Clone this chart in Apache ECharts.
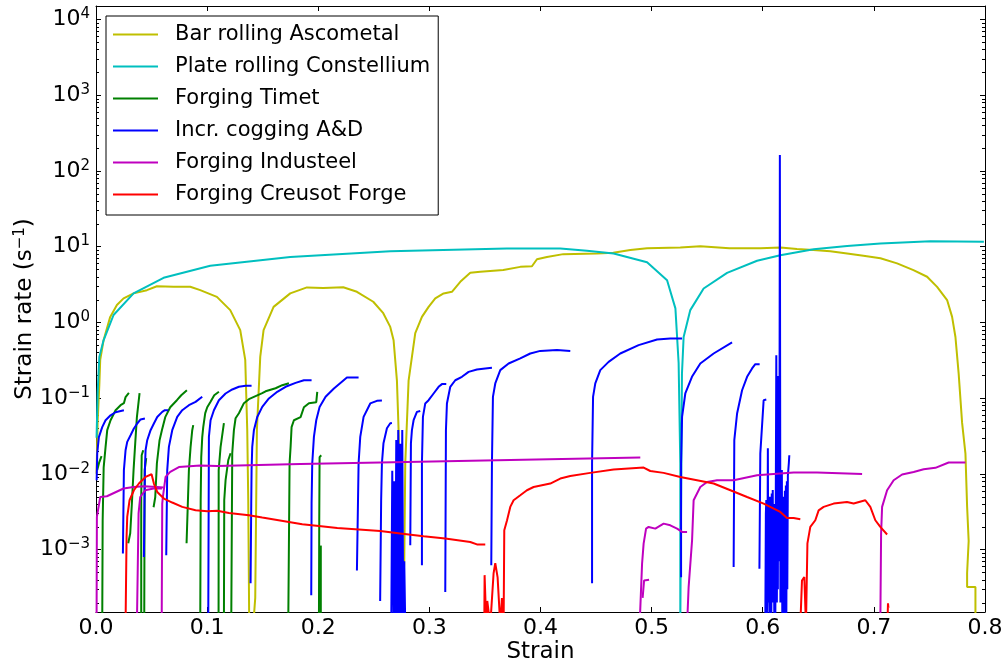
<!DOCTYPE html>
<html>
<head>
<meta charset="utf-8">
<script src="https://cdn.jsdelivr.net/npm/echarts/dist/echarts.min.js"></script>
<style>
  html, body { margin: 0; padding: 0; background: #fff; }
  #chart { width: 1007px; height: 664px; }
</style>
</head>
<body>
<div id="chart"></div>
<script>
// strain / strain rate readings, one array per process
var barRolling = [
  [0.0005,0.01],[0.0015,0.05],[0.003,0.15],[0.0038,0.32],[0.0068,0.58],[0.0128,1.18],[0.0188,1.69],[0.0248,2.07],
  [0.0338,2.41],[0.0458,2.66],[0.0548,3.0],[0.0698,2.95],[0.0848,2.95],[0.0938,2.66],[0.1088,2.17],[0.1208,1.45],
  [0.1298,0.79],[0.1343,0.32],[0.1361,0.038],[0.137,0.0045],[0.1379,0.0001],
  [0.1415,0.0001],[0.1433,0.00023],[0.1448,0.038],[0.1478,0.35],[0.1508,0.79],[0.1598,1.6],[0.1748,2.41],[0.1898,2.89],
  [0.2045,2.83],[0.2225,2.9],[0.2348,2.53],[0.2495,1.87],[0.2585,1.32],[0.2648,0.87],[0.2678,0.58],[0.2708,0.17],
  [0.2723,0.038],[0.2738,0.0018],[0.2753,0.0001],
  [0.2765,0.0001],[0.2774,0.00072],[0.2783,0.0138],[0.2813,0.17],[0.2843,0.35],[0.2873,0.72],[0.2933,1.18],[0.2993,1.6],
  [0.3053,2.07],[0.3128,2.41],[0.3203,2.53],[0.3278,3.43],[0.3368,4.5],[0.3458,4.65],[0.3665,4.9],[0.3818,5.4],
  [0.3923,5.5],[0.3968,6.8],[0.4058,7.3],[0.4205,7.95],[0.4508,8.1],[0.4655,8.3],[0.4808,9.0],[0.4959,9.5],
  [0.5258,9.7],[0.5438,10.1],[0.57,9.5],[0.598,9.5],[0.616,9.7],[0.6308,9.3],[0.6455,9.0],[0.6608,8.7],[0.6759,8.1],
  [0.6906,7.55],[0.7059,7.0],[0.7209,6.0],[0.7356,4.9],[0.7479,4.0],[0.7569,2.94],[0.7659,1.97],[0.7704,1.18],
  [0.7734,0.64],[0.7763,0.21],[0.7794,0.047],[0.7824,0.0185],[0.7839,0.0037],[0.7853,0.0013],[0.7839,0.00049],
  [0.7839,0.00032],[0.7914,0.00032],[0.7914,0.0001]
];

var plateRolling = [
  [0.0005,0.03],[0.0015,0.12],[0.003,0.35],[0.0068,0.58],[0.0158,1.25],[0.0338,2.41],[0.0608,3.87],[0.1028,5.57],
  [0.1748,7.3],[0.2648,8.65],[0.3698,9.47],[0.4178,9.47],[0.4418,8.8],[0.4658,8.1],[0.4959,6.2],[0.5139,3.6],
  [0.5214,1.53],[0.5243,0.29],[0.5258,0.0137],[0.5258,0.0001],
  [0.5268,0.0001],[0.5273,0.21],[0.5288,0.64],[0.5348,1.45],[0.5468,2.8],[0.5679,4.5],[0.5949,6.5],[0.6158,7.7],
  [0.6458,9.2],[0.6759,10.2],[0.7059,11.0],[0.7509,11.8],[0.799,11.6]
];

var forgingTimet = [
  [[0.0011,0.0112],[0.0029,0.0142],[0.005,0.0171]],
  [[0.0056,0.0001],[0.006,0.00244],[0.0069,0.0122],[0.0086,0.0225],[0.0101,0.0377],[0.0131,0.051],[0.0176,0.0692],[0.0221,0.0806],[0.0251,0.0857],[0.0266,0.103],[0.0296,0.117]],
  [[0.029,0.00121],[0.0308,0.00164],[0.0323,0.00409],[0.0338,0.0112],[0.0353,0.0253],[0.0368,0.056],[0.0392,0.116]],
  [[0.0407,0.0001],[0.0407,0.0045],[0.0411,0.0176],[0.0425,0.0205]],
  [[0.0434,0.0001],[0.0438,0.0112],[0.0452,0.0161]],
  [[0.0518,0.00362],[0.0533,0.00491],[0.0548,0.0138],[0.0572,0.0278],[0.0593,0.0377],[0.0623,0.056],[0.0668,0.0758],[0.0728,0.0938],[0.0767,0.109],[0.0818,0.127]],
  [[0.0815,0.00121],[0.0836,0.0112],[0.0851,0.0225],[0.0866,0.0377],[0.0875,0.0439]],
  [[0.0938,0.0001],[0.0942,0.00448],[0.0947,0.0166],[0.0956,0.0305],[0.0965,0.0413],[0.0983,0.0632],[0.1001,0.0758],[0.1028,0.0883],[0.1064,0.109],[0.1106,0.121]],
  [[0.1103,0.0001],[0.1104,0.0112],[0.1121,0.0225],[0.1151,0.0466]],
  [[0.1151,0.0001],[0.1154,0.00448],[0.1166,0.00824],[0.119,0.0151],[0.1211,0.0187]],
  [[0.1217,0.0001],[0.1226,0.0187],[0.1241,0.0377],[0.1256,0.0542],[0.1286,0.0632],[0.1331,0.0857],[0.1376,0.0967],[0.1436,0.106],[0.1496,0.116],[0.1526,0.123],[0.1616,0.135],[0.1676,0.148],[0.1736,0.157]],
  [[0.173,0.0001],[0.1742,0.0138],[0.1751,0.0225],[0.176,0.0413],[0.1781,0.051],[0.1841,0.056],[0.1871,0.0758],[0.1916,0.0857],[0.1982,0.0883],[0.1991,0.121]],
  [[0.2006,0.0001],[0.2009,0.00244],[0.2012,0.0166],[0.2027,0.0176]],
  [[0.2023,0.0001],[0.2023,0.00113]]
];

var incrCogging = [
  [[0.0006,0.00824],[0.0011,0.0187],[0.0026,0.0305],[0.0056,0.0413],[0.0086,0.051],[0.0131,0.0593],[0.0176,0.065],[0.0251,0.0692]],
  [[0.0242,0.00089],[0.0251,0.0112],[0.0266,0.0205],[0.0281,0.0264],[0.0311,0.0323],[0.0341,0.0397],[0.0371,0.0462],[0.0401,0.0522],[0.044,0.0538]],
  [[0.0431,0.0008],[0.044,0.0112],[0.0446,0.0205],[0.0461,0.0278],[0.0491,0.0377],[0.0521,0.0462],[0.0551,0.0564],[0.0596,0.0657],[0.062,0.0692],[0.065,0.0692]],
  [[0.0632,0.00084],[0.0641,0.0112],[0.0656,0.0227],[0.0686,0.0377],[0.0731,0.0564],[0.0776,0.0692],[0.0836,0.0806],[0.0896,0.0891],[0.0956,0.104]],
  [[0.101,0.0001],[0.1016,0.0307],[0.1031,0.051],[0.1061,0.0692],[0.1106,0.0938],[0.1166,0.115],[0.1226,0.13],[0.1286,0.141],[0.1346,0.145],[0.14,0.145]],
  [[0.1391,0.00036],[0.1397,0.00409],[0.14,0.0112],[0.1406,0.0227],[0.1421,0.0377],[0.1451,0.0564],[0.1496,0.0765],[0.1556,0.0988],[0.1631,0.121],[0.1706,0.141],[0.1796,0.159],[0.1871,0.172],[0.194,0.172]],
  [[0.1937,0.00025],[0.194,0.00409],[0.1946,0.0138],[0.1961,0.0307],[0.1982,0.051],[0.2012,0.0765],[0.2066,0.104],[0.2141,0.134],[0.2258,0.187],[0.2363,0.187]],
  [[0.2348,0.00053],[0.2363,0.0138],[0.2378,0.0307],[0.2408,0.0564],[0.2468,0.085],[0.2528,0.092],[0.2573,0.093]],
  [[0.2557,0.00021],[0.2566,0.00448],[0.2573,0.0138],[0.2587,0.0254],[0.2618,0.04],[0.2648,0.0466],[0.2663,0.047]],
  [[0.2657,0.0001],[0.2666,0.011],[0.2678,0.0001],[0.2684,0.008],[0.2693,0.0001],[0.2702,0.028],[0.2711,0.0001],[0.272,0.038],[0.2729,0.0001],[0.2738,0.025],[0.2747,0.0001],[0.2756,0.038],[0.2765,0.0001],[0.2774,0.0007],[0.2783,0.0001]],
  [[0.2828,0.00114],[0.2834,0.0254],[0.2843,0.0377],[0.2858,0.051],[0.2888,0.0657],[0.2918,0.0677]],
  [[0.2933,0.00062],[0.2933,0.0138],[0.2942,0.0564],[0.2963,0.085],[0.2993,0.0938],[0.3038,0.115],[0.3083,0.141],[0.3113,0.153],[0.3152,0.153]],
  [[0.3143,0.000275],[0.3149,0.0377],[0.3158,0.085],[0.3188,0.141],[0.3233,0.172],[0.3293,0.191],[0.3353,0.222],[0.3428,0.239],[0.3503,0.246],[0.3563,0.251]],
  [[0.3557,0.00062],[0.3563,0.0138],[0.3572,0.104],[0.3593,0.156],[0.3638,0.234],[0.3713,0.286],[0.3818,0.334],[0.3908,0.388],[0.3998,0.42],[0.4148,0.43],[0.4268,0.42]],
  [[0.4464,0.00036],[0.4464,0.0138],[0.4473,0.104],[0.4493,0.156],[0.4538,0.234],[0.4613,0.301],[0.4718,0.388],[0.4883,0.5],[0.5049,0.594],[0.5168,0.613],[0.5274,0.613]],
  [[0.5265,0.00043],[0.5265,0.0138],[0.5274,0.0564],[0.5303,0.115],[0.5363,0.191],[0.5438,0.286],[0.5558,0.388],[0.5724,0.543]],
  [[0.5738,0.00059],[0.5744,0.0278],[0.5769,0.0626],[0.5814,0.127],[0.5859,0.191],[0.5904,0.246],[0.5933,0.28],[0.5972,0.28]],
  [[0.597,0.00056],[0.5978,0.0185],[0.6008,0.0938],[0.6032,0.0957]],
  [[0.6023,0.0001],[0.6028,0.003],[0.6032,0.0045],[0.6036,0.0001],[0.6041,0.0003],[0.6046,0.0218],[0.605,0.0002],[0.6055,0.003],
   [0.606,0.0001],[0.6064,0.005],[0.6068,0.0003],[0.6072,0.004],[0.6077,0.0001],[0.6081,0.0055],[0.6086,0.0003],[0.609,0.0061],
   [0.6095,0.0002],[0.6099,0.004],[0.6104,0.0001],[0.6108,0.0035],[0.6113,0.0001],[0.6122,0.369],[0.6127,0.0002],[0.6131,0.005],
   [0.6136,0.0003],[0.614,0.195],[0.6145,0.0007],[0.615,0.005],[0.6154,162],[0.6159,0.0002],[0.6163,0.006],[0.6167,0.0003],
   [0.6172,0.0112],[0.6176,0.0001],[0.6181,0.004],[0.6185,0.0002],[0.619,0.005],[0.6194,0.0001],[0.6199,0.006],[0.6203,0.0002],
   [0.6208,0.007],[0.6212,0.0001],[0.6217,0.008],[0.6221,0.0003],[0.6226,0.0095],[0.623,0.0112],[0.6235,0.014],[0.6239,0.0176]]
];

var forgingIndusteel = [
  [[0.0005,0.0001],[0.0008,0.0027],[0.0038,0.00495],[0.0098,0.00506],[0.0248,0.0064],[0.0338,0.0067],[0.0428,0.00686],[0.0548,0.0067],[0.0608,0.0066]],
  [[0.0368,0.0001],[0.0383,0.003],[0.0398,0.00495],[0.0443,0.00607],[0.0518,0.0064],[0.0593,0.0064]],
  [[0.0591,0.0001],[0.0596,0.00405],[0.0602,0.00495],[0.0626,0.0091],[0.0668,0.0106],[0.0746,0.0123],[0.0938,0.0129],[0.1091,0.0127],[0.1838,0.0135],[0.2558,0.0141],[0.4898,0.0164]],
  [[0.4892,0.0001],[0.4914,0.00065],[0.4928,0.0012],[0.495,0.00189],[0.4973,0.00199],[0.5033,0.00189],[0.5108,0.0022],[0.5168,0.00209],[0.5229,0.00189],[0.5274,0.00171],[0.5319,0.00171]],
  [[0.4919,0.00023],[0.4932,0.00039],[0.4977,0.0004]],
  [[0.5319,0.0001],[0.5333,0.00032],[0.5364,0.00133],[0.5378,0.00448],[0.5438,0.0067],[0.5499,0.00781],[0.5589,0.00824],[0.5738,0.00824],[0.5949,0.0096],[0.6158,0.0101],[0.6278,0.0104],[0.6489,0.0104],[0.6894,0.00997]],
  [[0.7058,0.0001],[0.7065,0.00163],[0.7074,0.00366],[0.7119,0.00607],[0.7178,0.00824],[0.7254,0.0098],[0.7358,0.0106],[0.7448,0.0115],[0.7554,0.012],[0.7673,0.0141],[0.7824,0.0141]]
];

var forgingCreusot = [
  [[0.0266,0.0001],[0.0275,0.00147],[0.0281,0.0027],[0.0302,0.00448],[0.0341,0.00607],[0.0386,0.00745],[0.0446,0.0091],[0.05,0.00988],
   [0.0521,0.00745],[0.0551,0.00577],[0.0611,0.00472],[0.0686,0.00418],[0.0776,0.00366],[0.0896,0.0033],[0.1001,0.00321],[0.1091,0.00326],
   [0.1196,0.00304],[0.1376,0.00284],[0.1496,0.00265],[0.1736,0.00232],[0.1856,0.00216],[0.2006,0.00205],[0.2171,0.00193],[0.2558,0.00176],
   [0.2738,0.00163],[0.2948,0.0015],[0.3143,0.0014],[0.3368,0.00126],[0.3428,0.00117],[0.3503,0.00117]],
  [[0.3494,0.0001],[0.3497,0.00046],[0.3512,0.0001],[0.3521,0.00021],[0.3548,0.0001],[0.3578,0.00049],[0.3593,0.00066],[0.3614,0.00043],[0.3638,0.0001],[0.3653,0.00023],[0.3668,0.0001]],
  [[0.3668,0.0001],[0.3674,0.0018],[0.3699,0.00244],[0.3728,0.00366],[0.3758,0.00448],[0.3818,0.00521],[0.3878,0.00607],[0.3938,0.0067],
   [0.4088,0.00745],[0.4178,0.00867],[0.4268,0.00938],[0.4448,0.0103],[0.4658,0.0114],[0.4928,0.0121],[0.4988,0.0109],[0.5108,0.0103],
   [0.5258,0.0091],[0.5408,0.00824],[0.5558,0.00745],[0.5709,0.00607],[0.5859,0.00495],[0.6008,0.00405],[0.6158,0.00314],[0.6218,0.00261],
   [0.6278,0.00261],[0.6338,0.00251]],
  [[0.6338,0.0001],[0.6353,0.00039],[0.6374,0.000435],[0.6389,0.0001],[0.6398,0.0001],[0.6402,0.00121],[0.6428,0.00199],[0.6473,0.00244],
   [0.6503,0.0033],[0.6548,0.00366],[0.6638,0.00405],[0.6758,0.00425],[0.6818,0.00405],[0.6923,0.00448],[0.6968,0.00366],[0.7013,0.00244],
   [0.7058,0.00199],[0.7119,0.00158]],
  [[0.7122,0.0001],[0.7127,0.000195],[0.7131,0.00017]]
];

var names = ['Bar rolling Ascometal', 'Plate rolling Constellium', 'Forging Timet',
  'Incr. cogging A&D', 'Forging Industeel', 'Forging Creusot Forge'];
var colors = ['#bfbf00', '#00bfbf', '#008000', '#0000ff', '#bf00bf', '#ff0000'];
var yMin = 1.5e-4, yMax = 1.5e4;

// log minor ticks 2..9 in each decade
var minorTicks = [];
for (var d = -4; d <= 4; d++) {
  for (var k = 2; k <= 9; k++) {
    var v = k * Math.pow(10, d);
    if (v > yMin && v < yMax) minorTicks.push(v);
  }
}

var groups = [[barRolling], [plateRolling], forgingTimet, incrCogging, forgingIndusteel, forgingCreusot];
var series = [];
groups.forEach(function (segs, i) {
  segs.forEach(function (seg) {
    series.push({
      name: names[i],
      type: 'line',
      data: seg,
      color: colors[i],
      showSymbol: false,
      symbol: 'none',
      clip: true,
      silent: true,
      lineStyle: { color: colors[i], width: 2 },
      itemStyle: { color: colors[i] },
      emphasis: { disabled: true }
    });
  });
});

series.push({
  type: 'custom',
  silent: true,
  clip: false,
  data: minorTicks.map(function (v) { return [0, v]; }),
  renderItem: function (params, api) {
    var p = api.coord([0, api.value(1)]);
    var cs = params.coordSys;
    var y = Math.round(p[1]) + 0.5;
    return {
      type: 'group',
      children: [
        { type: 'line', shape: { x1: cs.x, y1: y, x2: cs.x + 3, y2: y }, style: { stroke: '#000', lineWidth: 1 } },
        { type: 'line', shape: { x1: cs.x + cs.width, y1: y, x2: cs.x + cs.width - 3, y2: y }, style: { stroke: '#000', lineWidth: 1 } }
      ]
    };
  }
});

function expLabel(v) {
  var e = Math.round(Math.log10(v));
  return '10{sup|' + (e < 0 ? '\u2212' + (-e) : e) + '}';
}

var axisLine = { show: true, onZero: false, lineStyle: { color: '#000', width: 1 } };
var tick = { show: true, inside: true, length: 5, lineStyle: { color: '#000', width: 1 } };

var chart = echarts.init(document.getElementById('chart'), null, { renderer: 'canvas' });
chart.setOption({
  animation: false,
  textStyle: { fontFamily: 'DejaVu Sans' },
  grid: { left: 96, right: 22, top: 6, bottom: 52, outerBoundsMode: 'none', containLabel: false },
  legend: {
    data: names.map(function (n) { return { name: n, icon: 'rect' }; }),
    orient: 'vertical',
    left: 106,
    top: 16,
    itemWidth: 45,
    itemHeight: 2,
    itemGap: 11,
    padding: [8, 8, 10, 7],
    backgroundColor: '#fff',
    borderColor: '#000',
    borderWidth: 1,
    borderRadius: 0,
    selectedMode: false,
    textStyle: { fontFamily: 'DejaVu Sans', fontSize: 21, color: '#000', lineHeight: 20, padding: [0, 0, 0, 12] }
  },
  xAxis: [{
    type: 'value', min: 0, max: 0.8, interval: 0.1, position: 'bottom',
    axisLine: axisLine, axisTick: tick, splitLine: { show: false },
    axisLabel: {
      fontSize: 22, color: '#000', margin: 5,
      formatter: function (v) { return v.toFixed(1); }
    },
    name: 'Strain', nameLocation: 'middle', nameGap: 29, nameMoveOverlap: false,
    nameTextStyle: { fontSize: 23, color: '#000' }
  }, {
    type: 'value', min: 0, max: 0.8, interval: 0.1, position: 'top',
    axisLine: axisLine, axisTick: tick, splitLine: { show: false },
    axisLabel: { show: false }
  }],
  yAxis: [{
    type: 'log', logBase: 10, min: yMin, max: yMax, position: 'left',
    axisLine: axisLine, axisTick: tick, splitLine: { show: false },
    axisLabel: {
      fontSize: 22, color: '#000', margin: 6, showMinLabel: false, showMaxLabel: false,
      formatter: expLabel,
      rich: { sup: { fontSize: 15, verticalAlign: 'top', padding: [0, 0, 10, 0] } }
    },
    name: 'Strain rate (s{sup|\u22121})', nameLocation: 'middle', nameGap: 58, nameMoveOverlap: false,
    nameTextStyle: { fontSize: 23, color: '#000', rich: { sup: { fontSize: 15, padding: [0, 0, 10, 0] } } }
  }, {
    type: 'log', logBase: 10, min: yMin, max: yMax, position: 'right',
    axisLine: axisLine, axisTick: tick, splitLine: { show: false },
    axisLabel: { show: false }
  }],
  series: series
});
</script>
</body>
</html>
